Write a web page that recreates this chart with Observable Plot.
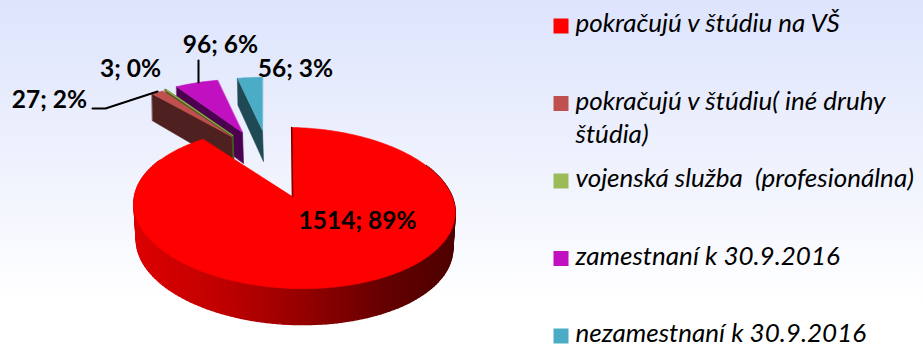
<!DOCTYPE html>
<html><head><meta charset="utf-8">
<script src="https://cdn.jsdelivr.net/npm/d3@7"></script>
<script src="https://cdn.jsdelivr.net/npm/@observablehq/plot@0.6"></script>
<style>html,body{margin:0;padding:0;background:#fff}</style>
</head><body><div id="chart"></div>
<script>
const categories = ["pokračujú v štúdiu na VŠ","pokračujú v štúdiu( iné druhy\nštúdia)","vojenská služba  (profesionálna)","zamestnaní k 30.9.2016","nezamestnaní k 30.9.2016"];
const counts = [1514, 27, 3, 96, 56];
const dataLabels = ["1514; 89%","27; 2%","3; 0%","96; 6%","56; 3%"];
const colors = ["#ff0000","#c0504d","#9bbb59","#c010c0","#4bacc6"];
const wallColors = [null,"#4f2020","#4a5a20","#4b0050","#1f4a55"];

// layout of the perspective pie (pixels of the 923x344 frame)
const P = 1/7, RX = 159, RY = 78.9, SHEAR = 0.02, DEPTH = 36, SKEW = 2.5;
const apex = {x: 292, y: 196};
const rim = {x: 293.7, y: 196};
const exploded = [
  null,
  {x: 231, y: 136, sx: .89, sy: .77},
  {x: 232, y: 135, sx: .87, sy: .77},
  {x: 242, y: 132, sx: .87, sy: .77},
  {x: 262, y: 130, sx: .87, sy: .77}
];
const labelAt = [[357,221],[49,100],[130,69],[220,45],[295,69]];

const total = d3.sum(counts);
let acc = 0;
const arcs = counts.map(c => { const a0 = acc/total*2*Math.PI; acc += c; return [a0, acc/total*2*Math.PI]; });

function project(t, c, sx = 1, sy = 1, shear = 0, skew = 0) {
  const u = Math.sin(t), v = Math.cos(t), s = 1/(1 + P*v);
  const dx = RX*sx*u*s;
  return {x: c.x + dx - skew*v, y: c.y - RY*sy*v*s + shear*dx};
}
function sweep(a0, a1, step = 0.02) {
  const n = Math.max(2, Math.ceil((a1-a0)/step));
  return d3.range(n+1).map(i => a0 + (a1-a0)*i/n);
}
const poly = (pts, fill) => Plot.line(pts, {x:"x", y:"y", fill, stroke:fill, strokeWidth:0.6, curve:"linear-closed"});

const marks = [];

// exploded slices, back to front
[4,3,2,1].forEach(i => {
  const e = exploded[i], [a0,a1] = arcs[i];
  const outer = sweep(a0,a1).map(t => project(t, e, e.sx, e.sy));
  const tip = {x:e.x, y:e.y};
  const o = outer[0];
  marks.push(poly([o, tip, {x:tip.x+1, y:tip.y+31}, {x:o.x+0.5, y:o.y+27}], wallColors[i]));
  if (i === 2) marks.push(Plot.line([o, tip, {x:tip.x+1, y:tip.y+31}], {x:"x", y:"y", stroke:wallColors[i], strokeWidth:2.2}));
  marks.push(poly([tip, ...outer], colors[i]));
});

// side wall of the main slice, one band per small step along the rim
const wallShade = d3.scaleLinear([134,220,300,390,454],["#dc0000","#c00000","#960000","#620000","#4e0000"]);
const [ra0, ra1] = arcs[0];
const wallAngles = sweep(Math.PI*0.35, Math.PI*1.65, 0.03);
const wallRows = [];
wallAngles.slice(0,-1).forEach((t,i) => {
  const a = project(t, rim, 1, 1, SHEAR, SKEW), b = project(wallAngles[i+1], rim, 1, 1, SHEAR, SKEW);
  const low = p => ({x: rim.x + (p.x-rim.x)*0.985, y: p.y + DEPTH});
  const color = wallShade((a.x+b.x)/2);
  [a,b,low(b),low(a)].forEach(p => wallRows.push({x:p.x,y:p.y,id:i,color}));
});
marks.push(Plot.line(wallRows, {x:"x", y:"y", z:"id", fill:"color", stroke:"color", strokeWidth:1.4, curve:"linear-closed"}));

// top face of the main slice
const topFace = sweep(ra0, ra1).map(t => project(t, rim, 1, 1, SHEAR, SKEW));
marks.push(poly([apex, ...topFace], colors[0]));
marks.push(Plot.line([topFace[0], apex], {x:"x", y:"y", stroke:"#7a0000", strokeWidth:1.6}));

// leader lines
marks.push(Plot.line([{x:92,y:108},{x:105,y:108},{x:157,y:91}], {x:"x", y:"y", stroke:"#000", strokeWidth:2}));
marks.push(Plot.line([{x:198,y:60},{x:198,y:82}], {x:"x", y:"y", stroke:"#000", strokeWidth:2}));

// data labels
marks.push(Plot.text(dataLabels, {x:(d,i)=>labelAt[i][0], y:(d,i)=>labelAt[i][1], text:d=>d, fontFamily:"Lato", fontWeight:700, fontSize:24.5, fill:"#000", textAnchor:"middle", lineAnchor:"middle"}));

// legend
const legendY = (d,i) => 25.5 + i*77.5;
marks.push(Plot.dot(categories, {x:()=>560.5, y:legendY, symbol:"square", r:8.46, fill:(d,i)=>colors[i], stroke:"none"}));
marks.push(Plot.text(categories, {x:()=>575, y:legendY, text:d=>d, fontFamily:"Lato", fontStyle:"italic", fontSize:26, fill:"#000", textAnchor:"start", lineAnchor:"top", dy:-18, lineHeight:1.3}));

const chart = Plot.plot({
  width:923, height:344, margin:0,
  x:{domain:[0,923], range:[0,923], axis:null},
  y:{domain:[0,344], range:[0,344], axis:null},
  style:{background:"linear-gradient(#dde4fc 0%, #eef1fd 45%, #ffffff 88%)", display:"block", overflow:"hidden"},
  marks
});
document.getElementById("chart").appendChild(chart);
</script></body></html>
